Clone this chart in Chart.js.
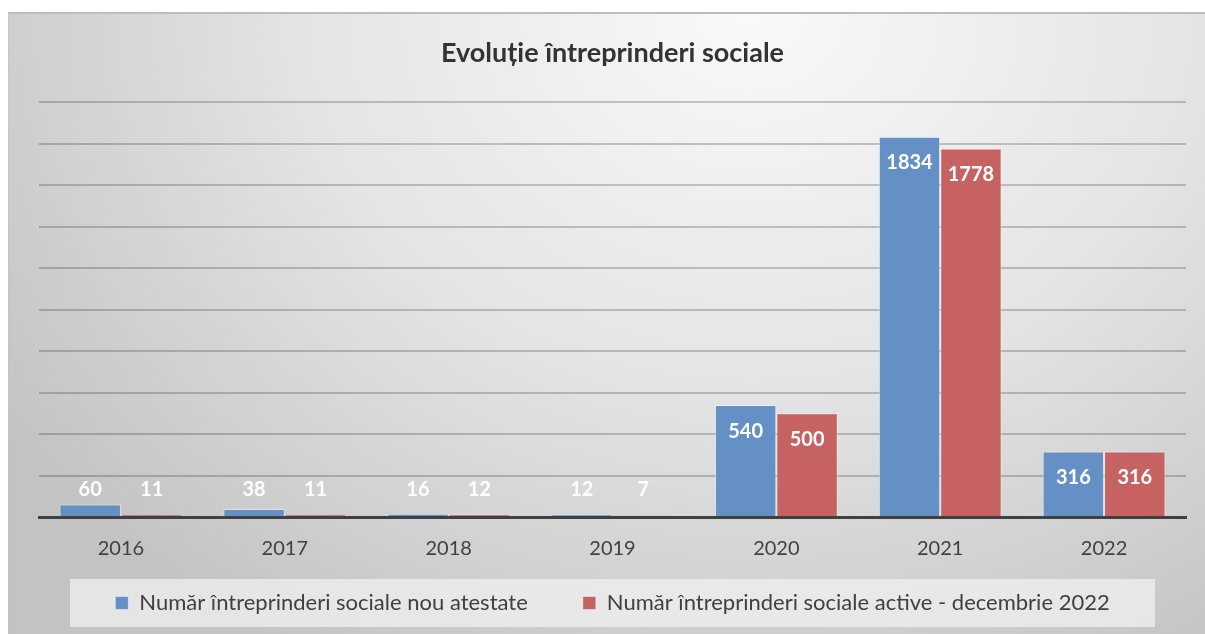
<!DOCTYPE html>
<html>
<head>
<meta charset="utf-8">
<script src="https://cdn.jsdelivr.net/npm/chart.js@4/dist/chart.umd.min.js"></script>
<style>
  html, body { margin: 0; padding: 0; background: #fff; overflow: hidden; }
  #box {
    position: absolute; left: 8px; top: 12px; width: 1197px; height: 622px;
    border-top: 2px solid #bdbdbd; border-left: 1px solid #c4c4c4;
    box-sizing: border-box;
    background: radial-gradient(ellipse 75% 120% at 62% 0%, #f9f9f9 0%, #e4e4e4 50%, #c3c3c3 100%);
  }
  #chart { display: block; }
</style>
</head>
<body>
<div id="box"><canvas id="chart" width="1196" height="620"></canvas></div>
<script>
// date
var years = ['2016', '2017', '2018', '2019', '2020', '2021', '2022'];
var nouAtestate = [60, 38, 16, 12, 540, 1834, 316];
var activeDec2022 = [11, 11, 12, 7, 500, 1778, 316];
var seriesNames = ['Număr întreprinderi sociale nou atestate', 'Număr întreprinderi sociale active - decembrie 2022'];

var FONT = 'Lato, "Open Sans", sans-serif';

// etichete albe in interiorul barelor
var valueLabels = {
    id: 'valueLabels',
    afterDatasetsDraw: function(chart) {
        var ctx = chart.ctx;
        ctx.save();
        ctx.fillStyle = '#ffffff';
        ctx.font = 'bold 20px ' + FONT;
        ctx.textAlign = 'center';
        ctx.textBaseline = 'middle';
        chart.data.datasets.forEach(function(ds, i) {
            chart.getDatasetMeta(i).data.forEach(function(bar, j) {
                var y = Math.min(bar.y + 26, bar.base - 26);
                ctx.fillText(String(ds.data[j]), bar.x, y);
            });
        });
        ctx.restore();
    }
};

// fundalul legendei
var legendBg = {
    id: 'legendBg',
    beforeDraw: function(chart) {
        var lg = chart.legend, ca = chart.chartArea, ctx = chart.ctx;
        if (!lg.legendHitBoxes || !lg.legendHitBoxes.length) return;
        var hb = lg.legendHitBoxes[0];
        var cy = hb.top + hb.height / 2;
        ctx.save();
        ctx.fillStyle = 'rgba(240,240,240,0.75)';
        ctx.fillRect(ca.left + 31, cy - 24, ca.right - ca.left - 62, 48);
        ctx.restore();
    }
};

new Chart(document.getElementById('chart').getContext('2d'), {
    type: 'bar',
    data: {
        labels: years,
        datasets: [{
            label: seriesNames[0],
            data: nouAtestate,
            backgroundColor: '#6590c6',
            borderColor: 'rgba(255,255,255,0.45)',
            borderWidth: 1
        }, {
            label: seriesNames[1],
            data: activeDec2022,
            backgroundColor: '#c66262',
            borderColor: 'rgba(255,255,255,0.45)',
            borderWidth: 1
        }]
    },
    options: {
        responsive: false,
        animation: false,
        layout: { padding: { left: 30, right: 19, top: 0, bottom: 10 } },
        datasets: { bar: { categoryPercentage: 0.75, barPercentage: 1 } },
        plugins: {
            title: {
                display: true,
                text: 'Evoluție întreprinderi sociale',
                color: '#333333',
                font: { family: FONT, size: 27, weight: 'bold' },
                padding: { top: 23, bottom: 33 }
            },
            legend: {
                position: 'bottom',
                labels: {
                    color: '#404040',
                    font: { family: FONT, size: 22 },
                    boxWidth: 13,
                    boxHeight: 13,
                    padding: 10,
                    useBorderRadius: false,
                    generateLabels: function(chart) {
                        var items = Chart.defaults.plugins.legend.labels.generateLabels(chart);
                        // spatiu mai mare intre cele doua elemente
                        items[0].text += '        ';
                        return items;
                    }
                }
            },
            tooltip: { enabled: false }
        },
        scales: {
            x: {
                grid: { display: false, drawTicks: false },
                border: { display: true, color: '#404040', width: 3 },
                ticks: { color: '#404040', font: { family: FONT, size: 20 }, padding: 20 },
                afterFit: function(scale) { scale.height = 65; }
            },
            y: {
                min: 0,
                max: 2000,
                ticks: { display: false, stepSize: 200 },
                grid: { color: 'rgba(0,0,0,0.2)', lineWidth: 2, drawTicks: false },
                border: { display: false }
            }
        }
    },
    plugins: [legendBg, valueLabels]
});
</script>
</body>
</html>
